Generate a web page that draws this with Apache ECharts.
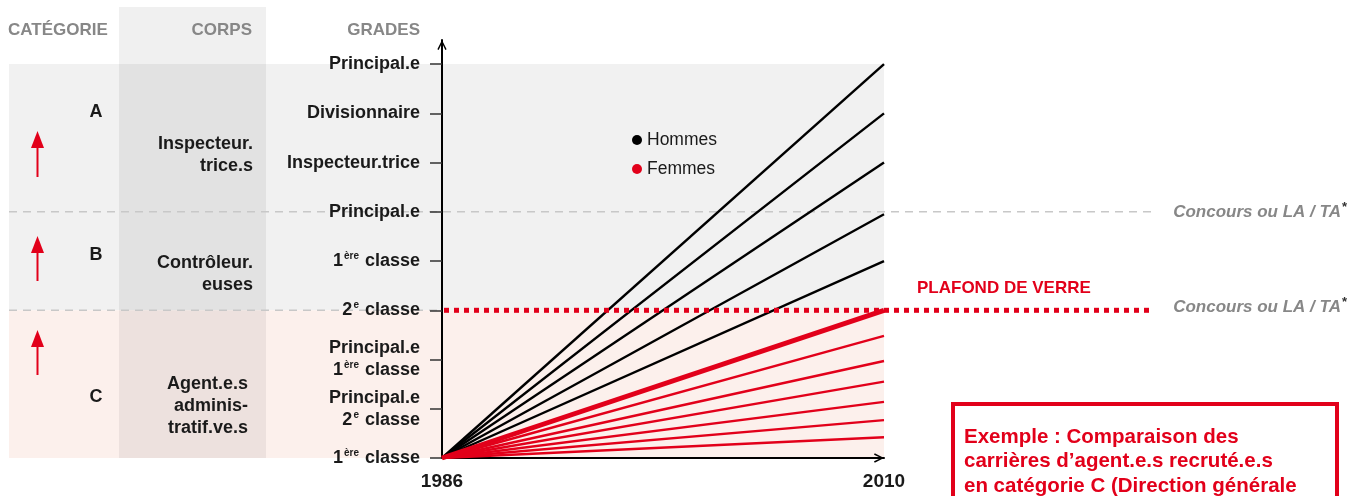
<!DOCTYPE html>
<html>
<head>
<meta charset="utf-8">
<script src="https://cdn.jsdelivr.net/npm/echarts@6/dist/echarts.min.js"></script>
<style>
html,body{margin:0;padding:0;background:#fff;}
#chart{width:1351px;height:496px;}
</style>
</head>
<body>
<div id="chart"></div>
<script>
// ---- data ----
const years = [1986, 2010];
const gradeValues = [0, 1, 2, 3, 4, 5, 6, 7, 8];
const gradeLabels = [
  '1{sup|ère} classe',
  'Principal.e\n2{sup|e} classe',
  'Principal.e\n1{sup|ère} classe',
  '2{sup|e} classe',
  '1{sup|ère} classe',
  'Principal.e',
  'Inspecteur.trice',
  'Divisionnaire',
  'Principal.e'
];
const startGrade = 0;
const hommesEnds = [8, 7, 6, 4.95, 4];
const femmesEnds = [2.48, 1.97, 1.55, 1.14, 0.77, 0.42];
const femmesMain = 3;
const glassCeiling = 3;
const bandA = [5, 8];
const bandC = [0, 3];

const FONT = 'Liberation Sans';
const RED = '#e2001a';
const GREY_TXT = '#878787';

const chart = echarts.init(document.getElementById('chart'), null, {renderer: 'canvas'});

const series = [];
hommesEnds.forEach(v => series.push({
  name: 'Hommes', type: 'line', symbol: 'none', silent: true, z: 3,
  lineStyle: {color: '#000', width: 2.4}, itemStyle: {color: '#000'},
  data: [[years[0], startGrade], [years[1], v]]
}));
femmesEnds.forEach(v => series.push({
  name: 'Femmes', type: 'line', symbol: 'none', silent: true, z: 4,
  lineStyle: {color: RED, width: 2.4}, itemStyle: {color: RED},
  data: [[years[0], startGrade], [years[1], v]]
}));
series.push({
  name: 'Femmes', type: 'line', symbol: 'none', silent: true, z: 5,
  lineStyle: {color: RED, width: 5}, itemStyle: {color: RED},
  data: [[years[0], startGrade], [years[1], femmesMain]]
});

const arrowPath = 'path://M0,10 L5,0 L10,10 L8.6,10.8 L5,3.2 L1.4,10.8 Z';

chart.setOption({
  animation: false,
  textStyle: {fontFamily: FONT},
  grid: {left: 442, right: 467, top: 40, bottom: 38, containLabel: false},
  legend: {
    data: ['Hommes', 'Femmes'],
    orient: 'vertical', left: 627, top: 126, itemGap: 11,
    icon: 'circle', itemWidth: 10, itemHeight: 10,
    textStyle: {fontFamily: FONT, fontSize: 17.5, color: '#1a1a1a'},
    selectedMode: false
  },
  xAxis: {
    type: 'value', min: years[0], max: years[1],
    axisLine: {show: true, lineStyle: {color: '#000', width: 2},
      symbol: ['none', arrowPath], symbolSize: [14, 10], symbolOffset: [0, -5]},
    axisTick: {show: false},
    splitLine: {show: false},
    axisLabel: {
      customValues: years, margin: 14,
      fontFamily: FONT, fontSize: 19, fontWeight: 'bold', color: '#1a1a1a',
      formatter: v => String(v)
    }
  },
  yAxis: {
    type: 'value', min: 0, max: 8.49,
    axisLine: {show: true, lineStyle: {color: '#000', width: 2},
      symbol: ['none', arrowPath], symbolSize: [14, 10], symbolOffset: [0, -5]},
    axisTick: {show: true, customValues: gradeValues, length: 12, inside: false,
      lineStyle: {color: '#333', width: 1.5}},
    splitLine: {show: false},
    axisLabel: {
      customValues: gradeValues, margin: 22,
      fontFamily: FONT, fontSize: 18, fontWeight: 'bold', color: '#1a1a1a',
      lineHeight: 22, align: 'right',
      formatter: v => gradeLabels[Math.round(v)] || '',
      rich: {
        sup: {fontFamily: FONT, fontSize: 10, fontWeight: 'bold', color: '#1a1a1a',
          verticalAlign: 'top', lineHeight: 22, padding: [1, 1, 0, 1]}
      }
    }
  },
  series: series
});

function px(x, y) { return chart.convertToPixel({gridIndex: 0}, [x, y]); }

const pTop = px(years[1], bandA[1]);
const pMid = px(years[1], bandC[1]);
const pB = px(years[1], bandA[0]);
const p0 = px(years[0], bandC[0]);
const xL = 9;
const xR = pTop[0];

function txt(x, y, text, opt) {
  return {type: 'text', x: x, y: y, z: 10, silent: true,
    style: Object.assign({text: text, fontFamily: FONT, fontSize: 18, fontWeight: 'bold',
      fill: '#1a1a1a', align: 'left', verticalAlign: 'middle', lineHeight: 22}, opt || {})};
}
function redArrow(x, yTip, yEnd) {
  return [
    {type: 'line', z: 10, silent: true, shape: {x1: x, y1: yTip + 10, x2: x, y2: yEnd},
      style: {stroke: RED, lineWidth: 2}},
    {type: 'polygon', z: 10, silent: true,
      shape: {points: [[x, yTip], [x - 6.5, yTip + 17], [x + 6.5, yTip + 17]]},
      style: {fill: RED}}
  ];
}

const g = [];
// background bands
g.push({type: 'rect', z: -10, silent: true, shape: {x: xL, y: pTop[1], width: xR - xL, height: pMid[1] - pTop[1]}, style: {fill: '#f1f1f1'}});
g.push({type: 'rect', z: -10, silent: true, shape: {x: xL, y: pMid[1], width: xR - xL, height: p0[1] - pMid[1]}, style: {fill: '#fcf0ec'}});
// corps column overlay
g.push({type: 'rect', z: -9, silent: true, shape: {x: 119, y: 7, width: 147, height: p0[1] - 7}, style: {fill: 'rgba(0,0,0,0.057)'}});
// grey dashed separators
g.push({type: 'line', z: -5, silent: true, shape: {x1: xL, y1: pB[1], x2: 1155, y2: pB[1]}, style: {stroke: '#c8c8c8', lineWidth: 1.5, lineDash: [8, 6]}});
g.push({type: 'line', z: -5, silent: true, shape: {x1: xL, y1: pMid[1], x2: p0[0], y2: pMid[1]}, style: {stroke: '#c8c8c8', lineWidth: 1.5, lineDash: [8, 6]}});
// glass ceiling
const pg = px(years[0], glassCeiling);
g.push({type: 'line', z: 6, silent: true, shape: {x1: pg[0] + 2, y1: pg[1], x2: 1150, y2: pg[1]}, style: {stroke: RED, lineWidth: 5, lineDash: [5, 5]}});
g.push(txt(917, 288, 'PLAFOND DE VERRE', {fill: RED, fontSize: 17}));
const concoursRich = {sup: {fontFamily: FONT, fontSize: 13, fontWeight: 'bold', fill: '#333', verticalAlign: 'top', lineHeight: 22, padding: [0, 0, 0, 1]}};
g.push(txt(1347, pB[1], 'Concours ou LA / TA{sup|*}', {fill: GREY_TXT, fontStyle: 'italic', fontSize: 17, align: 'right', rich: concoursRich}));
g.push(txt(1347, pMid[1] - 3, 'Concours ou LA / TA{sup|*}', {fill: GREY_TXT, fontStyle: 'italic', fontSize: 17, align: 'right', rich: concoursRich}));
// headers
g.push(txt(8, 30, 'CATÉGORIE', {fill: GREY_TXT, fontSize: 17}));
g.push(txt(252, 30, 'CORPS', {fill: GREY_TXT, fontSize: 17, align: 'right'}));
g.push(txt(420, 30, 'GRADES', {fill: GREY_TXT, fontSize: 17, align: 'right'}));
// categories
g.push(txt(96, 112, 'A', {align: 'center'}));
g.push(txt(96, 255, 'B', {align: 'center'}));
g.push(txt(96, 397, 'C', {align: 'center'}));
g.push(...redArrow(37.5, 131, 177));
g.push(...redArrow(37.5, 236, 281));
g.push(...redArrow(37.5, 330, 375));
// corps
g.push(txt(253, 155, 'Inspecteur.\ntrice.s', {align: 'right'}));
g.push(txt(253, 274, 'Contrôleur.\neuses', {align: 'right'}));
g.push(txt(248, 406, 'Agent.e.s\nadminis-\ntratif.ve.s', {align: 'right'}));
// example box
g.push({type: 'rect', z: 10, silent: true, shape: {x: 953, y: 404, width: 384, height: 140}, style: {fill: 'none', stroke: RED, lineWidth: 4}});
g.push({type: 'text', x: 964, y: 425, z: 10, silent: true, style: {
  text: 'Exemple : Comparaison des\ncarrières d’agent.e.s recruté.e.s\nen catégorie C (Direction générale',
  fontFamily: FONT, fontSize: 20.5, fontWeight: 'bold', fill: RED, lineHeight: 24.5,
  align: 'left', verticalAlign: 'top'}});

chart.setOption({graphic: {elements: g}});
</script>
</body>
</html>
